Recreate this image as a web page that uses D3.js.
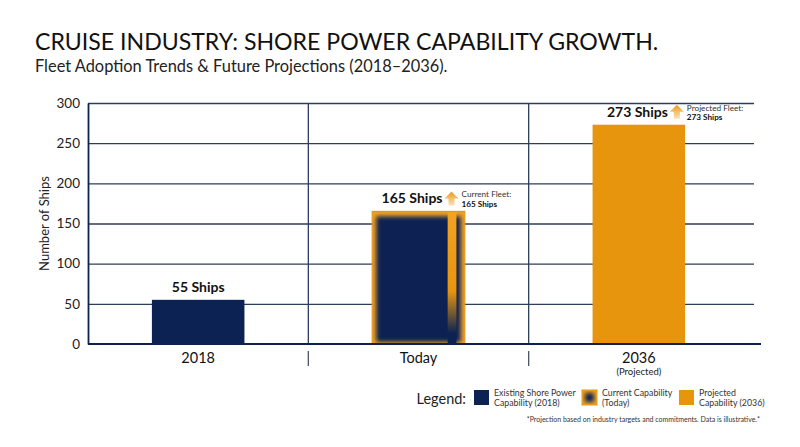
<!DOCTYPE html>
<html>
<head>
<meta charset="utf-8">
<script src="https://cdn.jsdelivr.net/npm/d3@7"></script>
<style>
  body { margin: 0; background: #fff; }
  svg { display: block; font-family: Lato, "Open Sans", sans-serif; }
</style>
</head>
<body>
<div id="chart"></div>
<script>
// data
const categories = ['2018', 'Today', '2036'];
const subLabels = ['', '', '(Projected)'];
const ships = [55, 165, 273];
const yTicks = [0, 50, 100, 150, 200, 250, 300];
const noteTitles = ['', 'Current Fleet:', 'Projected Fleet:'];
const legendLines = [
  ['Existing Shore Power', 'Capability (2018)'],
  ['Current Capability', '(Today)'],
  ['Projected', 'Capability (2036)']
];

const width = 800, height = 447;
const margin = {top: 103, right: 46, bottom: 103, left: 88};
const navy = '#0b2252';
const orange = '#e8950e';
const gridColor = '#2c3d5e';

const svg = d3.select('#chart').append('svg')
  .attr('width', width)
  .attr('height', height);

const defs = svg.append('defs');
defs.append('filter').attr('id', 'soft')
  .attr('x', '-20%').attr('y', '-20%').attr('width', '140%').attr('height', '140%')
  .append('feGaussianBlur').attr('stdDeviation', 2.2);

const stripeGrad = defs.append('linearGradient').attr('id', 'stripe')
  .attr('x1', 0).attr('y1', 0).attr('x2', 0).attr('y2', 1);
stripeGrad.append('stop').attr('offset', '0%').attr('stop-color', '#f2a322');
stripeGrad.append('stop').attr('offset', '60%').attr('stop-color', orange);
stripeGrad.append('stop').attr('offset', '92%').attr('stop-color', navy);

const arrowGrad = defs.append('linearGradient').attr('id', 'arrow')
  .attr('x1', 0).attr('y1', 0).attr('x2', 0).attr('y2', 1);
arrowGrad.append('stop').attr('offset', '0%').attr('stop-color', '#eb9a1c');
arrowGrad.append('stop').attr('offset', '100%').attr('stop-color', '#fbe2b6');

const plotRight = width - margin.right;
const plotBottom = height - margin.bottom;

const xPanel = d3.scaleBand()
  .domain(categories)
  .range([margin.left, plotRight - 5]);

const x = d3.scaleBand()
  .domain(categories)
  .range([margin.left, plotRight - 5])
  .paddingInner(0.58)
  .paddingOuter(0.29);

const y = d3.scaleLinear()
  .domain([0, 300])
  .range([plotBottom, margin.top]);

// titles
svg.append('text')
  .attr('x', 35).attr('y', 50)
  .attr('font-size', 23.1)
  .attr('fill', '#111')
  .text('CRUISE INDUSTRY: SHORE POWER CAPABILITY GROWTH.');

svg.append('text')
  .attr('x', 35).attr('y', 72)
  .attr('font-size', 16.4)
  .attr('fill', '#222')
  .text('Fleet Adoption Trends & Future Projections (2018\u20132036).');

// gridlines
svg.append('g')
  .attr('class', 'grid')
  .attr('transform', `translate(${margin.left},0)`)
  .call(d3.axisRight(y).tickValues(yTicks.slice(1)).tickSize(plotRight - margin.left).tickFormat(''))
  .call(g => g.select('.domain').remove())
  .call(g => g.selectAll('line').attr('stroke', gridColor).attr('stroke-width', 1.3));

// panel dividers
svg.append('g')
  .selectAll('line')
  .data(categories.slice(1))
  .join('line')
  .attr('x1', d => xPanel(d)).attr('x2', d => xPanel(d))
  .attr('y1', margin.top).attr('y2', plotBottom)
  .attr('stroke', gridColor).attr('stroke-width', 1.3);

svg.append('g')
  .selectAll('line')
  .data(categories.slice(1))
  .join('line')
  .attr('x1', d => xPanel(d)).attr('x2', d => xPanel(d))
  .attr('y1', plotBottom + 7).attr('y2', plotBottom + 22)
  .attr('stroke', '#4a5568').attr('stroke-width', 1.3);

// y axis
const gy = svg.append('g')
  .attr('transform', `translate(${margin.left},0)`)
  .call(d3.axisLeft(y).tickValues(yTicks).tickSize(0).tickPadding(8));
gy.select('.domain').attr('stroke', navy).attr('stroke-width', 1.8);
gy.selectAll('text').attr('font-size', 13.5).attr('fill', '#222').attr('font-family', 'Lato, sans-serif');

svg.append('text')
  .attr('transform', `translate(49,${(margin.top + plotBottom) / 2}) rotate(-90)`)
  .attr('text-anchor', 'middle')
  .attr('font-size', 13)
  .attr('fill', '#222')
  .text('Number of Ships');

// bars
const barData = categories.map((c, i) => ({cat: c, value: ships[i], i}));

barData.forEach(d => {
  const bx = x(d.cat), bw = x.bandwidth();
  const by = y(d.value), bh = y(0) - y(d.value);
  if (d.i === 0) {
    svg.append('rect').attr('x', bx).attr('y', by).attr('width', bw).attr('height', bh).attr('fill', navy);
  } else if (d.i === 2) {
    svg.append('rect').attr('x', bx).attr('y', by).attr('width', bw).attr('height', bh).attr('fill', orange);
  } else {
    // current capability: navy with a soft orange inner glow and a highlight stripe
    defs.append('clipPath').attr('id', 'clipToday')
      .append('rect').attr('x', bx).attr('y', by).attr('width', bw).attr('height', bh);
    const g = svg.append('g').attr('clip-path', 'url(#clipToday)');
    g.append('rect').attr('x', bx).attr('y', by).attr('width', bw).attr('height', bh).attr('fill', '#f0a22a');
    g.append('rect')
      .attr('x', bx + 4).attr('y', by + 5).attr('width', bw - 8).attr('height', bh - 7)
      .attr('fill', navy).attr('filter', 'url(#soft)');
    g.append('rect')
      .attr('x', bx + bw * 0.815).attr('y', by).attr('width', bw * 0.095).attr('height', bh)
      .attr('fill', 'url(#stripe)');
    svg.append('rect').attr('x', bx).attr('y', by).attr('width', bw).attr('height', bh)
      .attr('fill', 'none').attr('stroke', orange).attr('stroke-width', 1.2);
  }
});

// x axis line
svg.append('line')
  .attr('x1', margin.left).attr('x2', plotRight + 7)
  .attr('y1', plotBottom).attr('y2', plotBottom)
  .attr('stroke', navy).attr('stroke-width', 2);

// value labels
const cx = d => x(d.cat) + x.bandwidth() / 2;
const arrowX = d => d.i === 1 ? cx(d) + 33 : cx(d) + 38;
svg.append('g')
  .selectAll('text')
  .data(barData)
  .join('text')
  .attr('x', d => d.i === 0 ? cx(d) : arrowX(d) - 9)
  .attr('y', d => y(d.value) - 8)
  .attr('text-anchor', d => d.i === 0 ? 'middle' : 'end')
  .attr('font-size', 14)
  .attr('font-weight', 700)
  .attr('fill', '#111')
  .text(d => `${d.value} Ships`);

// arrows + notes
const noted = barData.filter(d => d.i > 0);
svg.append('g')
  .selectAll('path')
  .data(noted)
  .join('path')
  .attr('transform', d => `translate(${arrowX(d)},${y(d.value) - 20})`)
  .attr('d', 'M0,0 L7,7 L3,7 L3,14 L-3,14 L-3,7 L-7,7 Z')
  .attr('fill', 'url(#arrow)');

const notes = svg.append('g')
  .selectAll('g')
  .data(noted)
  .join('g')
  .attr('transform', d => `translate(${arrowX(d) + 10},${y(d.value) - 14})`);
notes.append('text')
  .attr('font-size', 8.2).attr('fill', '#333')
  .text(d => noteTitles[d.i]);
notes.append('text')
  .attr('y', 9.6)
  .attr('font-size', 8.2).attr('font-weight', 700).attr('fill', '#111')
  .text(d => `${d.value} Ships`);

// category labels
const xl = svg.append('g')
  .selectAll('g')
  .data(barData)
  .join('g')
  .attr('transform', d => `translate(${cx(d)},${plotBottom})`);
xl.append('text')
  .attr('y', 18.5)
  .attr('text-anchor', 'middle')
  .attr('font-size', 14.5)
  .attr('fill', '#111')
  .text(d => d.cat);
xl.append('text')
  .attr('y', 30.5)
  .attr('text-anchor', 'middle')
  .attr('font-size', 9.5)
  .attr('fill', '#222')
  .text(d => subLabels[d.i]);

// legend
const legend = svg.append('g').attr('transform', 'translate(0,390)');
legend.append('text')
  .attr('x', 466).attr('y', 14)
  .attr('text-anchor', 'end')
  .attr('font-size', 14.5).attr('fill', '#222')
  .text('Legend:');

const legendX = [474, 582, 679];
const items = legend.selectAll('g.item')
  .data(legendLines)
  .join('g')
  .attr('class', 'item')
  .attr('transform', (d, i) => `translate(${legendX[i]},0)`);

defs.append('clipPath').attr('id', 'clipSwatch')
  .append('rect').attr('width', 15).attr('height', 15);

items.each(function (d, i) {
  const g = d3.select(this);
  if (i === 1) {
    const s = g.append('g').attr('clip-path', 'url(#clipSwatch)');
    s.append('rect').attr('width', 15).attr('height', 15).attr('fill', '#f0a22a');
    s.append('rect').attr('x', 3).attr('y', 3).attr('width', 9).attr('height', 9)
      .attr('fill', navy).attr('filter', 'url(#soft)');
    g.append('rect').attr('width', 15).attr('height', 15).attr('fill', 'none').attr('stroke', orange).attr('stroke-width', 1);
  } else {
    g.append('rect').attr('width', 15).attr('height', 15).attr('fill', i === 0 ? navy : orange);
  }
  g.selectAll('text')
    .data(d)
    .join('text')
    .attr('x', 20)
    .attr('y', (t, j) => 6 + j * 10)
    .attr('font-size', 8.8)
    .attr('fill', '#333')
    .text(t => t);
});

svg.append('text')
  .attr('x', 760).attr('y', 422)
  .attr('text-anchor', 'end')
  .attr('font-size', 7)
  .attr('fill', '#333')
  .text('*Projection based on industry targets and commitments. Data is illustrative.*');
</script>
</body>
</html>
